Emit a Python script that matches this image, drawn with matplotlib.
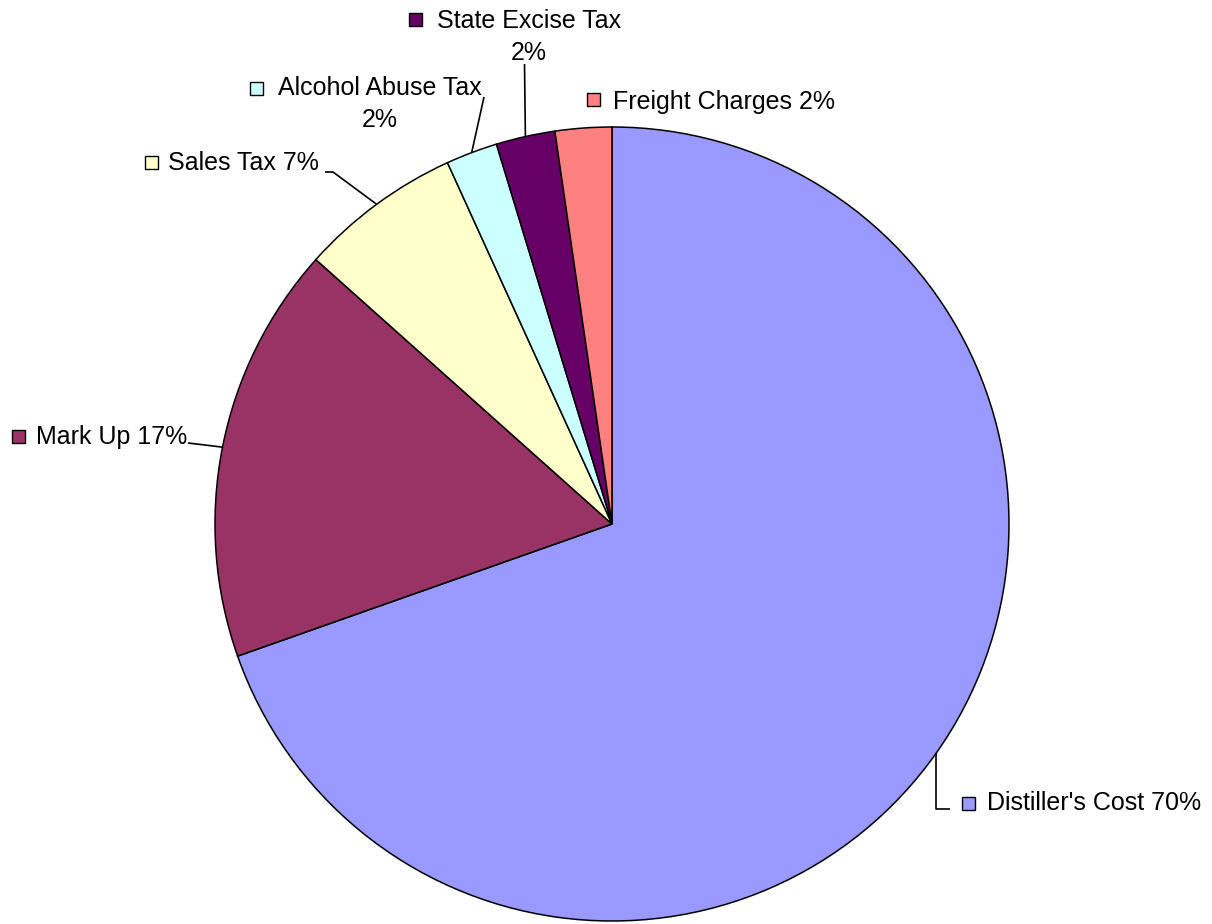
import numpy as np
import matplotlib
matplotlib.use('Agg')
import matplotlib.pyplot as plt
from matplotlib.patches import Rectangle

# dados do gráfico (percentual de cada componente do preço)
nomes = ["Distiller's Cost", "Mark Up", "Sales Tax", "Alcohol Abuse Tax",
         "State Excise Tax", "Freight Charges"]
valores = [69.6, 17.0, 6.6, 2.1, 2.4, 2.3]
cores = ['#9999FF', '#993366', '#FFFFCC', '#CCFFFF', '#660066', '#FF8080']
# quebra de linha do rótulo (alguns rótulos ficam em duas linhas)
duas_linhas = [False, False, False, True, True, False]

W, H = 1212, 924
plt.rcParams['font.family'] = ['Liberation Sans', 'DejaVu Sans']
fig = plt.figure(figsize=(W / 100, H / 100), dpi=100)
ax = fig.add_axes([0, 0, 1, 1])

def py(y):
  # converte coordenada y de pixel (topo) para dados (base)
  return H - y

cx, cy, r = 612, py(524), 397
wedges, _ = ax.pie(valores, colors=cores, startangle=90, counterclock=False,
                   center=(cx, cy), radius=r, frame=True,
                   wedgeprops=dict(edgecolor='black', linewidth=1.1))
ax.set_xlim(0, W)
ax.set_ylim(0, H)
ax.set_aspect('equal')
ax.axis('off')

total = sum(valores)
rotulos = []
for n, v, d in zip(nomes, valores, duas_linhas):
  p = '{:.0f}%'.format(v / total * 100)
  rotulos.append(n + '\n' + p if d else n + ' ' + p)

# posição dos rótulos (pixel): quadrado, texto, alinhamento, cotovelo da linha
quadrado = [(968, 803), (18, 436), (151, 162), (256, 88), (415, 19), (593, 99)]
texto = [(987, 803, 'left'), (36, 437, 'left'), (168, 163, 'left'),
         (380, 104, 'center'), (529, 37, 'center'), (613, 102, 'left')]
cotovelo = [[None, (950, 809)], [(205, 445), (188, 443)], [(333, 172), (325, 172)],
            [(484, 97)], [(524.5, 64)], None]

fs = 18
for i, w in enumerate(wedges):
  tx, ty, ha = texto[i]
  ax.text(tx, py(ty), rotulos[i], fontsize=fs, ha=ha, va='center',
          multialignment='center', linespacing=1.4)
  qx, qy = quadrado[i]
  ax.add_patch(Rectangle((qx - 6.5, py(qy) - 6.5), 13, 13, facecolor=cores[i],
                         edgecolor='black', linewidth=1))
  if cotovelo[i] is None:
    continue
  ang = np.deg2rad((w.theta1 + w.theta2) / 2)
  ex, ey = cx + r * np.cos(ang), cy + r * np.sin(ang)
  xs, ys = [ex], [ey]
  for pt in cotovelo[i]:
    if pt is None:
      # desce verticalmente a partir da borda da fatia
      xs.append(ex)
      ys.append(py(809))
    else:
      xs.append(pt[0])
      ys.append(py(pt[1]))
  ax.plot(xs, ys, color='black', linewidth=1.2, solid_capstyle='butt')

fig.savefig('out.png', dpi=100)
